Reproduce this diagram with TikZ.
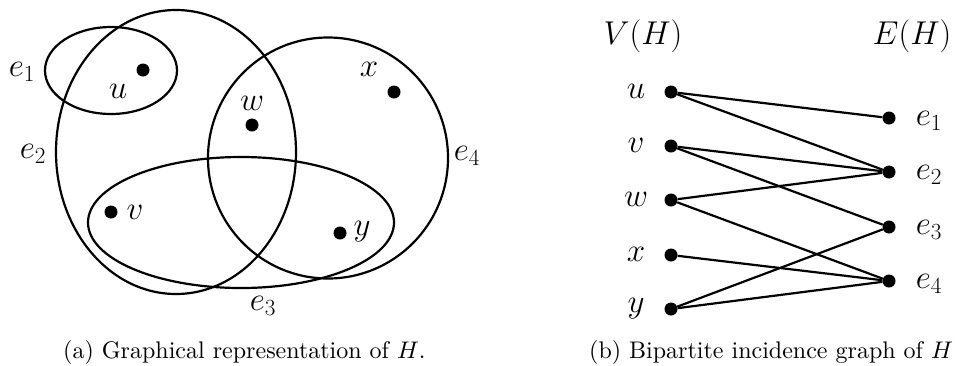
\documentclass[tikz,border=0pt]{standalone}
\usepackage{fix-cm}
\usepackage{graphicx}
\newcommand{\capsmall}[1]{\scalebox{2.4}{\fontsize{10}{12}\selectfont #1}}
\begin{document}
\begin{tikzpicture}[x=1pt,y=-1pt,
  hedge/.style={line width=2.2pt},
  dot/.style={circle,fill=black,inner sep=0pt,minimum size=13pt},
  lab/.style={inner sep=0pt,font=\fontsize{33}{40}\selectfont},
  captext/.style={inner sep=0pt,anchor=base west},
  link/.style={line width=2.2pt}]
\useasboundingbox (0,0) rectangle (959,365);
% (a) hypergraph
\draw[hedge] (111,70.5) ellipse [x radius=66pt, y radius=43.5pt];
\draw[hedge] (176,152) ellipse [x radius=120pt, y radius=142pt];
\draw[hedge] (328,158) ellipse [x radius=120pt, y radius=120.5pt];
\draw[hedge] (241,222.5) ellipse [x radius=153pt, y radius=65.5pt];
\node[dot] (pu) at (143,70) {};
\node[dot] (pw) at (252,125) {};
\node[dot] (px) at (394,92) {};
\node[dot] (pv) at (111,212) {};
\node[dot] (py) at (340,233) {};
\node[lab] (lu) at (118,91) {$u$};
\node[lab] (lw) at (252,103) {$w$};
\node[lab] (lx) at (369,69) {$x$};
\node[lab] (lv) at (135,212) {$v$};
\node[lab] (ly) at (362,232) {$y$};
\node[lab] (le1) at (22,72) {$e_1$};
\node[lab] (le2) at (33,154) {$e_2$};
\node[lab] (le4) at (467,156) {$e_4$};
\node[lab] (le3) at (263,306) {$e_3$};
\node[captext] (capa) at (63,358) {\capsmall{(a) Graphical representation of $H$.}};
% (b) bipartite incidence graph
\node[lab] (VH) at (643,36) {$V(H)$};
\node[lab] (EH) at (912,36) {$E(H)$};
\node[dot] (u) at (671,92) {};
\node[dot] (v) at (671,146) {};
\node[dot] (w) at (671,200) {};
\node[dot] (x) at (671,255) {};
\node[dot] (y) at (671,309) {};
\node[dot] (e1) at (889,118) {};
\node[dot] (e2) at (889,172) {};
\node[dot] (e3) at (889,227) {};
\node[dot] (e4) at (889,281) {};
\node[lab] (tu) at (636,91) {$u$};
\node[lab] (tv) at (636,145) {$v$};
\node[lab] (tw) at (636,199) {$w$};
\node[lab] (tx) at (636,254) {$x$};
\node[lab] (ty) at (636,309) {$y$};
\node[lab] (te1) at (929,121) {$e_1$};
\node[lab] (te2) at (929,175) {$e_2$};
\node[lab] (te3) at (929,230) {$e_3$};
\node[lab] (te4) at (929,284) {$e_4$};
\draw[link] (u) -- (e1);
\draw[link] (u) -- (e2);
\draw[link] (v) -- (e2);
\draw[link] (v) -- (e3);
\draw[link] (w) -- (e2);
\draw[link] (w) -- (e4);
\draw[link] (x) -- (e4);
\draw[link] (y) -- (e3);
\draw[link] (y) -- (e4);
\node[captext] (capb) at (589,358) {\capsmall{(b) Bipartite incidence graph of $H$}};
\end{tikzpicture}
\end{document}
